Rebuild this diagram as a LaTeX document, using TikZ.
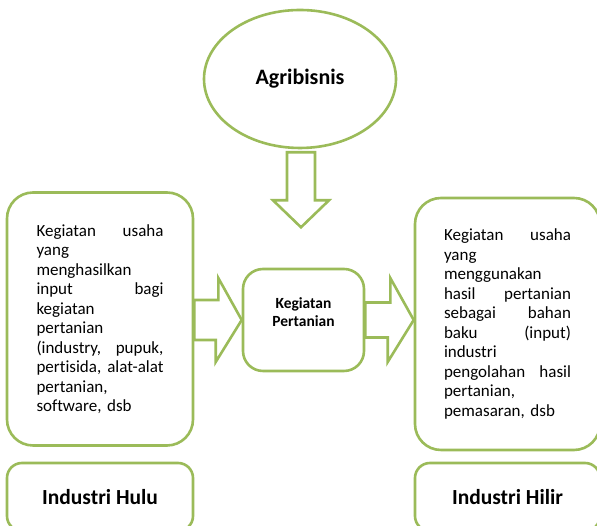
\documentclass[tikz,border=0pt]{standalone}
\usepackage{fontspec}
\setmainfont{Carlito}[Ligatures=NoCommon]
\usetikzlibrary{shapes.geometric}
\definecolor{leafgreen}{HTML}{9BBB59}

\begin{document}
\begin{tikzpicture}[x=1pt, y=1pt,
    box/.style={draw=leafgreen, line width=2.6pt, fill=white, rounded corners=26pt},
    blockarrow/.style={draw=leafgreen, line width=2.6pt, fill=white, line join=miter},
    bodytext/.style={text width=127pt, align=left, inner sep=0pt, font=\fontsize{17}{19.5}\selectfont},
    title/.style={font=\fontsize{21.5}{26}\selectfont\bfseries}]
    \useasboundingbox (0,0) rectangle (597,526);

    % Top ellipse
    \node[draw=leafgreen, line width=2.6pt, ellipse, minimum width=192pt, minimum height=138pt, title, font=\fontsize{22}{26}\selectfont\bfseries] (agri) at (300,447) {Agribisnis};

    % Middle box
    \node[box, rounded corners=20pt, minimum width=121pt, minimum height=102pt, font=\fontsize{15.5}{18}\selectfont\bfseries] (kegiatan) at (303.5,206) {\raisebox{6pt}[\height][\depth]{\begin{tabular}{@{}c@{}}Kegiatan\\Pertanian\end{tabular}}};

    % Side boxes
    \node[box, bodytext, minimum width=186pt, minimum height=253pt] (hulutext) at (100,207) {Kegiatan\hfill usaha\\
        yang\\
        menghasilkan\\
        input\hfill bagi\\
        kegiatan\\
        pertanian\\
        (industry,\hfill pupuk,\\
        pertisida,\hfill alat-alat\\
        pertanian,\\
        software, dsb};
    \node[box, bodytext, minimum width=185pt, minimum height=252pt] (hilirtext) at (507.5,202) {Kegiatan\hfill usaha\\
        yang\\
        menggunakan\\
        hasil\hfill pertanian\\
        sebagai\hfill bahan\\
        baku\hfill (input)\\
        industri\\
        pengolahan\hfill hasil\\
        pertanian,\\
        pemasaran, dsb};

    % Bottom labels
    \node[box, rounded corners=15pt, minimum width=186pt, minimum height=68pt, title] (hulu) at (100,29) {Industri Hulu};
    \node[box, rounded corners=15pt, minimum width=185pt, minimum height=68pt, title] (hilir) at (507.5,29) {Industri Hilir};

    % Block arrows
    \coordinate (agritip) at ([xshift=1pt,yshift=-78pt]agri.south);
    \coordinate (leftmid) at (hulutext.east |- kegiatan.west);
    \coordinate (rightmid) at (hilirtext.west |- kegiatan.east);
    \draw[blockarrow] (agritip) -- ++(-28,27) -- ++(14,0) -- ++(0,48) -- ++(28,0) -- ++(0,-48) -- ++(14,0) -- cycle;
    \draw[blockarrow] ([yshift=20pt]leftmid) -- ++(24,0) -- ++(0,22) -- (kegiatan.west) -- ++(-26,-42) -- ++(0,22) -- ([yshift=-20pt]leftmid) -- cycle;
    \draw[blockarrow] ([yshift=17.5pt]kegiatan.east) -- ++(25,0) -- ++(0,24.5) -- (rightmid) -- ++(-26,-42) -- ++(0,24.5) -- ([yshift=-17.5pt]kegiatan.east) -- cycle;
\end{tikzpicture}
\end{document}
